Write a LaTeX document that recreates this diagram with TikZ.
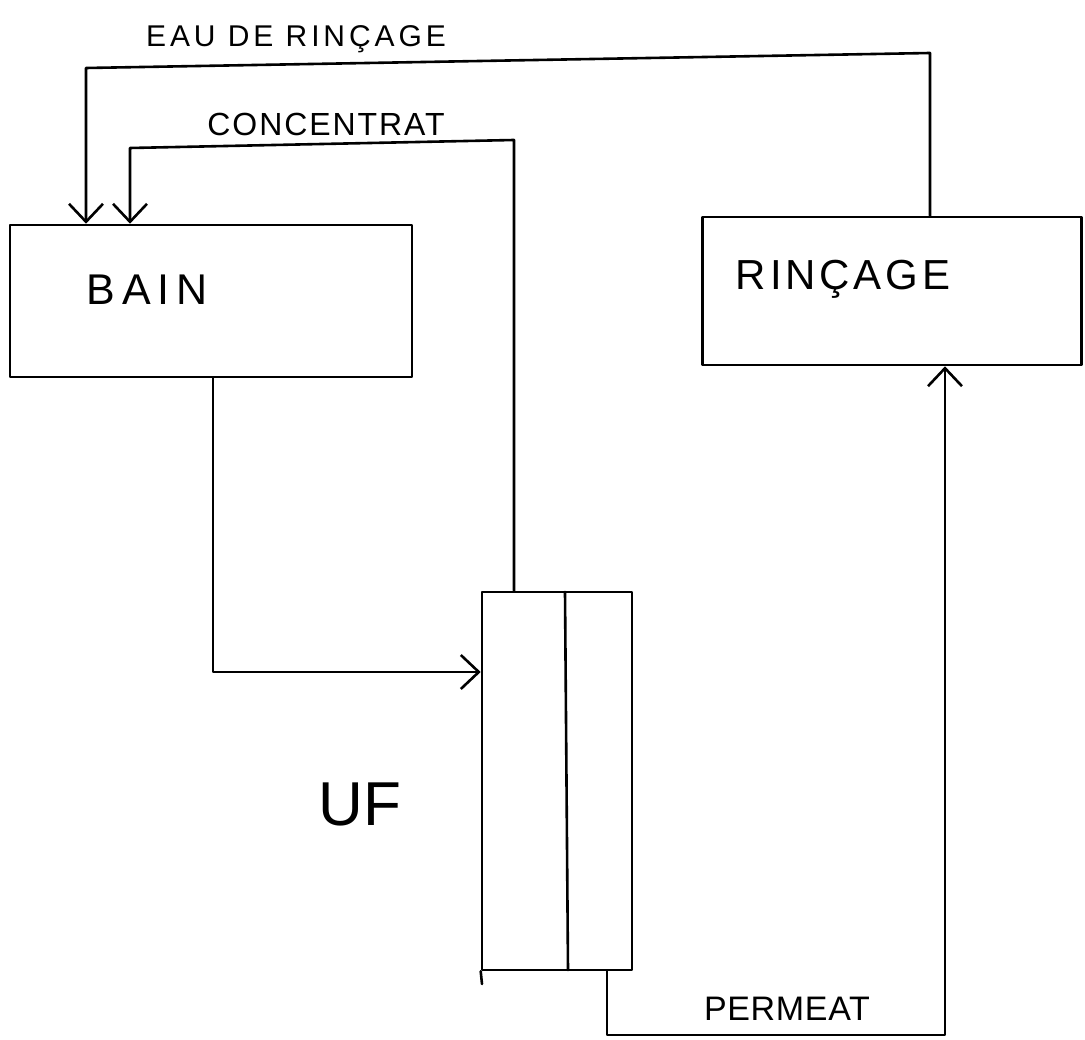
\documentclass[tikz,border=0pt]{standalone}
\usepackage{fontspec}
\setmainfont{Liberation Sans}
\usetikzlibrary{arrows.meta}
\begin{document}
\begin{tikzpicture}[x=1pt,y=-1pt, line width=2.6pt, line cap=round, line join=round,
  box/.style={draw, rectangle, inner sep=0pt},
  flow/.style={-{Straight Barb[length=18pt,width=34pt]}},
  lbl/.style={inner sep=0pt, anchor=base},
  bigtxt/.style={font=\fontsize{42}{42}\selectfont\addfontfeature{LetterSpace=9}},
  baintxt/.style={font=\fontsize{43}{43}\selectfont\addfontfeature{LetterSpace=16}},
  midtxt/.style={font=\fontsize{32}{32}\selectfont\addfontfeature{LetterSpace=6}},
  uftxt/.style={font=\fontsize{62}{62}\selectfont}]
\useasboundingbox (0,0) rectangle (1085,1040);
% boxes
\node[box, minimum width=402pt, minimum height=152pt] (bain) at (211,301) {};
\node[box, minimum width=379pt, minimum height=148pt] (rinc) at (892,291) {};
\node[box, minimum width=150pt, minimum height=378pt] (uf) at (557,781) {};
\coordinate (ufmidtop) at (565,592);
\coordinate (ufmidbot) at (568,970);
\draw (ufmidtop) -- (ufmidbot);
\coordinate (uftail) at (482,984);
\draw (uf.south west) -- (uftail);
% labels
\node[lbl, baintxt] (bainlbl) at (147,305) {BAIN};
\node[lbl, bigtxt] (rinclbl) at (843,290) {RINÇAGE};
\node[lbl, uftxt] (uflbl) at (360,825) {UF};
\node[lbl, font=\fontsize{30}{30}\selectfont\addfontfeature{LetterSpace=13}] (eaulbl) at (296,47) {EAU DE RINÇAGE};
\node[lbl, midtxt] (conclbl) at (326,136) {CONCENTRAT};
\node[lbl, font=\fontsize{34}{34}\selectfont\addfontfeature{LetterSpace=2}] (permlbl) at (787,1020) {PERMEAT};
% connectors
\coordinate (e1) at (930,53);
\coordinate (e2) at (86,68);
\draw[flow] (rinc.north -| e1) -- (e1) -- (e2) -- (bain.north -| e2);
\coordinate (c1) at (514,140);
\coordinate (c2) at (130,148);
\draw[flow] (uf.north -| c1) -- (c1) -- (c2) -- (bain.north -| c2);
\coordinate (f1) at (213,672);
\draw[flow] (bain.south -| f1) -- (f1) -- (uf.west |- f1);
\coordinate (p1) at (607,1035);
\coordinate (p2) at (945,1035);
\draw[flow] (uf.south -| p1) -- (p1) -- (p2) -- (rinc.south -| p2);
\end{tikzpicture}
\end{document}
